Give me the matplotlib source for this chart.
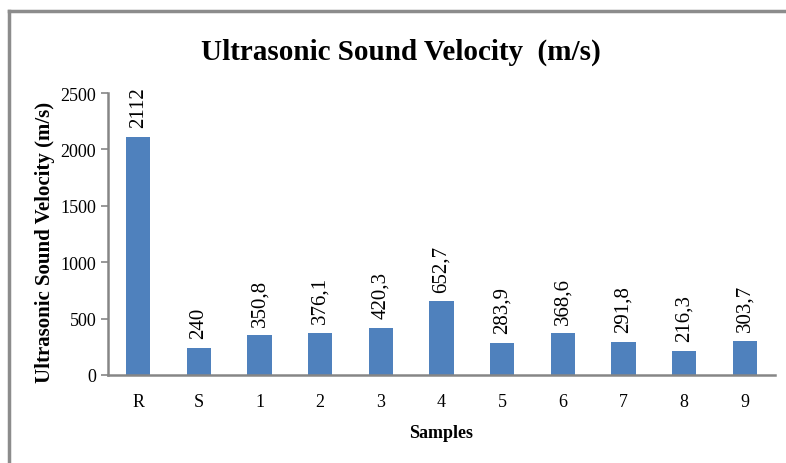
import matplotlib.pyplot as plt
from matplotlib.lines import Line2D

# chart data
samples = ['R', 'S', '1', '2', '3', '4', '5', '6', '7', '8', '9']
velocity = [2112, 240, 350.8, 376.1, 420.3, 652.7, 283.9, 368.6, 291.8, 216.3, 303.7]
value_labels = ['2112', '240', '350,8', '376,1', '420,3', '652,7',
                '283,9', '368,6', '291,8', '216,3', '303,7']
y_ticks = [0, 500, 1000, 1500, 2000, 2500]

plt.rcParams['font.family'] = ['Liberation Serif', 'DejaVu Serif']

fig = plt.figure(figsize=(7.86, 4.64), dpi=100)
ax = fig.add_axes([0.1374, 0.1897, 0.8486, 0.6077])

x = range(len(samples))
bars = ax.bar(x, velocity, width=0.4, color='#4F81BD')

for rect, lab in zip(bars, value_labels):
    ax.annotate(lab, (rect.get_x() + rect.get_width() / 2, rect.get_height()),
                xytext=(0, 7), textcoords='offset points',
                rotation=90, ha='center', va='bottom', fontsize=15)

ax.set_xlim(-0.5, len(samples) - 0.5)
ax.set_ylim(0, 2500)
ax.set_yticks(y_ticks)
ax.set_xticks(list(x))
ax.set_xticklabels(samples)
ax.tick_params(axis='y', labelsize=13, length=5, color='#868686', width=1.2)
ax.tick_params(axis='x', labelsize=13, length=0, pad=13)

for s in ['top', 'right']:
    ax.spines[s].set_visible(False)
for s in ['left', 'bottom']:
    ax.spines[s].set_color('#868686')
    ax.spines[s].set_linewidth(1.8)

ax.set_ylabel('Ultrasonic Sound Velocity (m/s)', fontsize=15, fontweight='bold')
ax.yaxis.set_label_coords(-0.08, 0.475)
ax.set_xlabel('Samples', fontsize=13, fontweight='bold', labelpad=10)

fig.text(0.51, 0.871, 'Ultrasonic Sound Velocity  (m/s)', ha='center', va='baseline',
         fontsize=21, fontweight='bold')

# outer chart frame (only top and left visible in the reference)
fig.add_artist(Line2D([0.0115, 1.0], [0.974, 0.974], transform=fig.transFigure,
                      color='#8C8C8C', linewidth=2.5))
fig.add_artist(Line2D([0.0115, 0.0115], [0.0, 0.974], transform=fig.transFigure,
                      color='#8C8C8C', linewidth=2.5))

fig.savefig('out.png', dpi=100)
